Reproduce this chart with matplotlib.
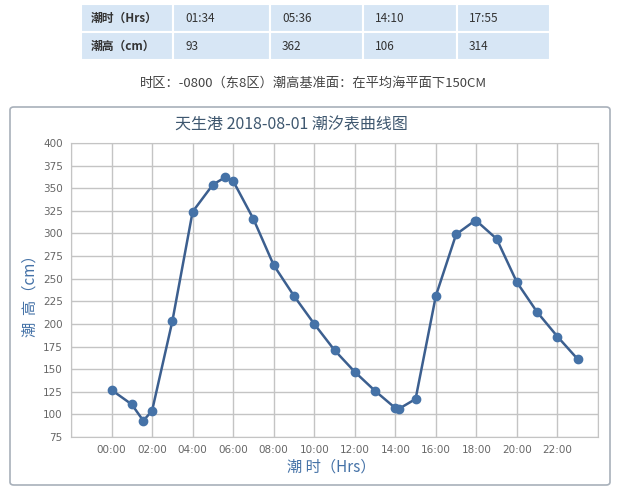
import matplotlib
import matplotlib.pyplot as plt
from matplotlib.patches import FancyBboxPatch, Rectangle

matplotlib.use("Agg")

plt.rcParams["font.family"] = ["Noto Sans CJK SC", "DejaVu Sans"]

# tide data
times = ["00:00", "01:00", "01:34", "02:00", "03:00", "04:00", "05:00",
         "05:36", "06:00", "07:00", "08:00", "09:00", "10:00", "11:00",
         "12:00", "13:00", "14:00", "14:10", "15:00", "16:00", "17:00",
         "17:55", "18:00", "19:00", "20:00", "21:00", "22:00", "23:00"]
heights = [127, 111, 93, 104, 203, 324, 354, 362, 358, 316, 265, 231, 200,
           171, 147, 126, 107, 106, 117, 231, 299, 314, 314, 294, 246, 213,
           186, 161]

# extremes table
table_header = ["潮时（Hrs）", "潮高（cm）"]
extreme_times = ["01:34", "05:36", "14:10", "17:55"]
extreme_heights = ["93", "362", "106", "314"]

xtick_labels = ["00:00", "02:00", "04:00", "06:00", "08:00", "10:00",
                "12:00", "14:00", "16:00", "18:00", "20:00", "22:00"]
yticks = [75, 100, 125, 150, 175, 200, 225, 250, 275, 300, 325, 350, 375, 400]

hours = [int(t[:2]) + int(t[3:]) / 60 for t in times]

W, H = 628, 500
fig = plt.figure(figsize=(W / 100, H / 100), dpi=100)


def fx(px):
    return px / W


def fy(py):
    return 1 - py / H


# table at the top
col_edges = [81, 173, 270, 363, 457, 550]
row_edges = [4, 32, 60]
rows = [[table_header[0]] + extreme_times, [table_header[1]] + extreme_heights]
for r in range(2):
    for c in range(5):
        x0, x1 = col_edges[c], col_edges[c + 1]
        y0, y1 = row_edges[r], row_edges[r + 1]
        fig.add_artist(Rectangle((fx(x0), fy(y1)), fx(x1 - x0), (y1 - y0) / H,
                                 facecolor="#d7e6f5", edgecolor="white",
                                 lw=1.5, transform=fig.transFigure))
        fig.text(fx(x0 + 12 if c else x0 + 10), fy((y0 + y1) / 2), rows[r][c],
                 ha="left", va="center", fontsize=8.5, color="#333333",
                 fontweight="bold" if c == 0 else "normal")

fig.text(fx(314), fy(83), "时区：-0800（东8区）潮高基准面：在平均海平面下150CM",
         ha="center", va="center", fontsize=9.5, color="#444444")

# chart container box
fig.add_artist(FancyBboxPatch((fx(10), fy(485)), fx(600), (485 - 107) / H,
                              boxstyle="round,pad=0,rounding_size=0.006",
                              facecolor="white", edgecolor="#a8b0ba", lw=1.2,
                              transform=fig.transFigure))

ax = fig.add_axes([fx(71), fy(437), fx(598 - 71), (437 - 143) / H])
ax.set_zorder(2)
ax.plot(hours, heights, color="#3c5f8f", lw=1.8, marker="o", markersize=6,
        markerfacecolor="#4572a7", markeredgecolor="#4572a7", zorder=3)

ax.set_xlim(-2, 24)
ax.set_ylim(75, 400)
ax.set_xticks(range(0, 23, 2))
ax.set_xticklabels(xtick_labels)
ax.set_xticks(range(-2, 25, 2), minor=True)
ax.set_yticks(yticks)
ax.grid(True, which="both", color="#c4c4c4", lw=1)
ax.tick_params(length=0, which="both", labelsize=7.5, labelcolor="#666666",
               pad=6, labelfontfamily="DejaVu Sans")
for s in ax.spines.values():
    s.set_color("#c4c4c4")

fig.text(fx(291), fy(125), "天生港 2018-08-01 潮汐表曲线图",
         ha="center", va="center", fontsize=11.5, color="#3e576f")
fig.text(fx(331), fy(467), "潮 时（Hrs）", ha="center", va="center",
         fontsize=11, color="#4572a7")
fig.text(fx(30), fy(292), "潮  高（cm）", ha="center", va="center",
         fontsize=11, color="#4572a7", rotation=90)

fig.savefig("out.png", dpi=100)
